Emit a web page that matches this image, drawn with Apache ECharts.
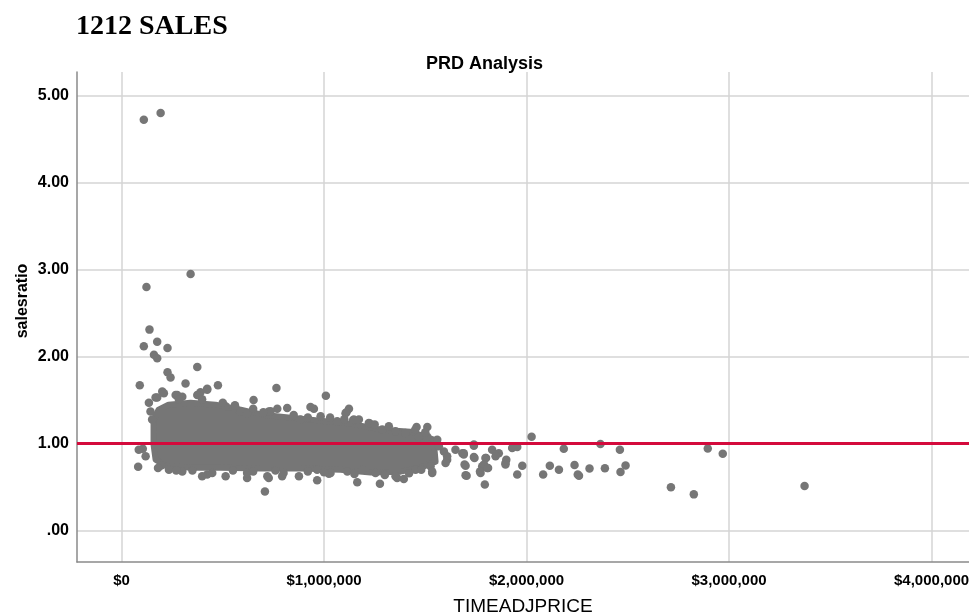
<!DOCTYPE html>
<html>
<head>
<meta charset="utf-8">
<title>PRD Analysis</title>
<script src="https://cdn.jsdelivr.net/npm/echarts@6/dist/echarts.min.js"></script>
<style>
  html, body { margin: 0; padding: 0; background: #fff; }
  #chart { width: 969px; height: 615px; }
</style>
</head>
<body>
<div id="chart"></div>
<script>
// tick values for both axes
const priceTicks = [0, 1000000, 2000000, 3000000, 4000000];
const ratioTicks = [0, 1, 2, 3, 4, 5];
const refRatio = 1.0;

// outline of the solid, over-plotted part of the cloud (price, salesratio)
const corePrice = [158000, 158000, 183000, 232000, 341000, 464000, 588000, 696000, 835000, 983000, 1131000, 1279000, 1427000, 1541000,
  1551000, 1477000, 1378000, 1230000, 1081000, 884000, 686000, 489000, 341000, 217000, 168000];
const coreRatio = [0.99, 1.276, 1.391, 1.448, 1.471, 1.448, 1.391, 1.333, 1.299, 1.264, 1.23, 1.161, 1.138, 1.046,
  0.793, 0.724, 0.678, 0.667, 0.701, 0.713, 0.713, 0.724, 0.724, 0.747, 0.816];

// individual sales that stand apart from the solid cloud (price, salesratio)
const salesPrice = [
  110000, 193000, 341000, 123000, 138000, 110000, 176000, 227000, 160000, 176000, 374000, 227000, 242000,
  90000, 316000, 476000, 765000, 1009000, 652000, 933000, 950000, 135000, 423000, 390000, 201000, 168000, 275000, 300000,
  105000, 82000, 196000, 708000, 727000, 793000, 966000, 1024000, 1111000, 1123000, 818000, 769000, 727000, 620000, 423000,
  1106000, 1144000, 1226000, 1457000, 1510000, 1510000, 1468000, 2025000, 1740000, 1649000, 1683000, 1830000, 1863000, 1847000,
  1929000, 1954000, 2184000, 1740000, 1797000, 1608000, 1699000, 1699000, 1781000, 1806000, 1773000, 1896000, 1979000, 1954000,
  1794000, 2115000, 2160000, 2082000, 2237000, 2253000, 1592000, 1608000, 1600000, 1526000, 1534000, 1361000, 1394000, 1276000,
  1164000, 1452000,
  2365000, 2461000, 2311000, 2387000, 2489000, 2464000, 2713000, 2826000, 2895000, 2969000, 3373000, 2259000,
  1740000, 1690000, 1694000, 1704000, 1743000, 1800000, 1790000, 1810000, 1770000, 1900000, 1896000,
  176000, 209000, 267000, 283000, 374000, 423000, 398000, 514000, 563000, 143000, 151000,
  588000, 620000, 736000, 884000, 983000, 1147000, 1065000, 1172000, 1221000, 1287000, 1353000, 1402000,
  500000, 560000, 650000, 700000, 850000, 920000, 1030000, 1100000, 1250000, 1320000, 1450000, 1500000,
  85000, 234000, 300000, 398000, 514000, 448000, 119000, 620000, 720000, 800000, 876000, 966000, 1032000, 1115000,
  1189000, 1254000, 1353000, 1534000, 1690000, 1567000, 1559000,
  180000, 270000, 350000, 550000, 650000, 760000, 920000, 1000000, 1150000, 1300000, 1420000, 1480000
];
const salesRatio = [
  4.72, 4.80, 2.95, 2.80, 2.31, 2.12, 2.17, 2.10, 2.02, 1.98, 1.88, 1.82, 1.76,
  1.67, 1.69, 1.67, 1.64, 1.55, 1.50, 1.42, 1.40, 1.47, 1.63, 1.59, 1.60, 1.53, 1.56, 1.54,
  0.94, 0.735, 0.75, 0.45, 0.605, 0.625, 0.58, 0.655, 1.36, 1.40, 1.41, 1.40, 1.37, 0.605, 0.644,
  1.35, 1.27, 1.23, 1.19, 1.19, 1.08, 1.077, 1.08, 0.977, 0.93, 0.89, 0.93, 0.89, 0.854,
  0.95, 0.96, 0.94, 0.847, 0.835, 0.816, 0.747, 0.636, 0.74, 0.72, 0.663, 0.778, 0.747, 0.644,
  0.53, 0.747, 0.70, 0.644, 0.755, 0.644, 0.91, 0.854, 0.778, 0.74, 0.663, 0.605, 0.594, 0.54,
  0.555, 0.70,
  0.997, 0.93, 0.713, 0.716, 0.75, 0.675, 0.50, 0.417, 0.943, 0.885, 0.514, 0.632,
  0.99, 0.89, 0.76, 0.632, 0.835, 0.835, 0.76, 0.72, 0.68, 0.816, 0.76,
  1.53, 1.58, 1.56, 1.51, 1.56, 1.62, 1.51, 1.43, 1.41, 1.37, 1.276,
  1.371, 1.35, 1.371, 1.276, 1.314, 1.276, 1.256, 1.276, 1.238, 1.161, 1.141, 1.123,
  1.47, 1.44, 1.40, 1.36, 1.33, 1.30, 1.30, 1.28, 1.22, 1.20, 1.16, 1.13,
  0.93, 0.70, 0.68, 0.624, 0.624, 0.663, 0.854, 0.663, 0.624, 0.663, 0.624, 0.70, 0.663, 0.68,
  0.70, 0.663, 0.624, 0.68, 0.874, 0.97, 1.046,
  0.72, 0.69, 0.69, 0.69, 0.68, 0.69, 0.68, 0.67, 0.65, 0.64, 0.66, 0.70
];

const pointColor = '#767676';
const chart = echarts.init(document.getElementById('chart'));

const salesData = salesPrice.map((p, i) => [p, salesRatio[i]]);

chart.setOption({
  animation: false,
  title: [
    {
      text: '1212 SALES',
      left: 71, top: 8,
      textStyle: { fontFamily: 'Liberation Serif', fontWeight: 'bold', fontSize: 28, color: '#000' }
    },
    {
      text: 'PRD Analysis',
      left: 'center', top: 50,
      textStyle: { fontFamily: 'Liberation Sans', fontWeight: 'bold', fontSize: 18, color: '#000' }
    }
  ],
  grid: { left: 77, top: 72, right: 0, bottom: 53, outerBoundsMode: 'none', containLabel: false },
  xAxis: {
    type: 'value',
    min: -220000, max: 4185000,
    name: 'TIMEADJPRICE',
    nameLocation: 'middle',
    nameGap: 35,
    nameMoveOverlap: false,
    nameTextStyle: { fontFamily: 'Liberation Sans', fontSize: 19, color: '#000' },
    axisLine: { show: true, onZero: false, lineStyle: { color: '#8a8a8a', width: 1.5 } },
    axisTick: { show: false, customValues: priceTicks },
    axisLabel: {
      customValues: priceTicks,
      margin: 11,
      fontFamily: "'Liberation Sans Narrow', 'Arial Narrow', sans-serif",
      fontWeight: 'bold', fontSize: 15, color: '#000',
      formatter: v => '$' + Number(v).toLocaleString('en-US')
    },
    splitLine: { show: true, lineStyle: { color: '#d4d4d4', width: 1.5 } }
  },
  yAxis: {
    type: 'value',
    min: -0.36, max: 5.27,
    name: 'salesratio',
    nameLocation: 'middle',
    nameRotate: 90,
    nameGap: 46,
    nameMoveOverlap: false,
    nameTextStyle: {
      fontFamily: 'Liberation Sans', fontWeight: 'bold', fontSize: 16, color: '#000',
      padding: [0, 0, 0, 32]
    },
    axisLine: { show: true, onZero: false, lineStyle: { color: '#8a8a8a', width: 1.5 } },
    axisTick: { show: false, customValues: ratioTicks },
    axisLabel: {
      customValues: ratioTicks,
      margin: 8,
      fontFamily: 'Liberation Sans', fontWeight: 'bold', fontSize: 16, color: '#000',
      formatter: v => (v === 0 ? '.00' : Number(v).toFixed(2))
    },
    splitLine: { show: true, lineStyle: { color: '#d4d4d4', width: 1.5 } }
  },
  series: [
    {
      // dense over-plotted core
      type: 'custom',
      data: [[0, 0]],
      silent: true,
      renderItem: (params, api) => {
        const pts = corePrice.map((p, i) => api.coord([p, coreRatio[i]]));
        return {
          type: 'polygon',
          shape: { points: pts },
          style: { fill: pointColor, stroke: pointColor, lineWidth: 6, lineJoin: 'round' }
        };
      },
      z: 2
    },
    {
      type: 'scatter',
      data: salesData,
      symbol: 'circle',
      symbolSize: 8.5,
      itemStyle: { color: pointColor, opacity: 1 },
      z: 3,
      markLine: {
        silent: true,
        symbol: 'none',
        label: { show: false },
        lineStyle: { color: '#d40a3c', width: 3, type: 'solid' },
        data: [{ yAxis: refRatio }]
      }
    }
  ]
});
</script>
</body>
</html>
